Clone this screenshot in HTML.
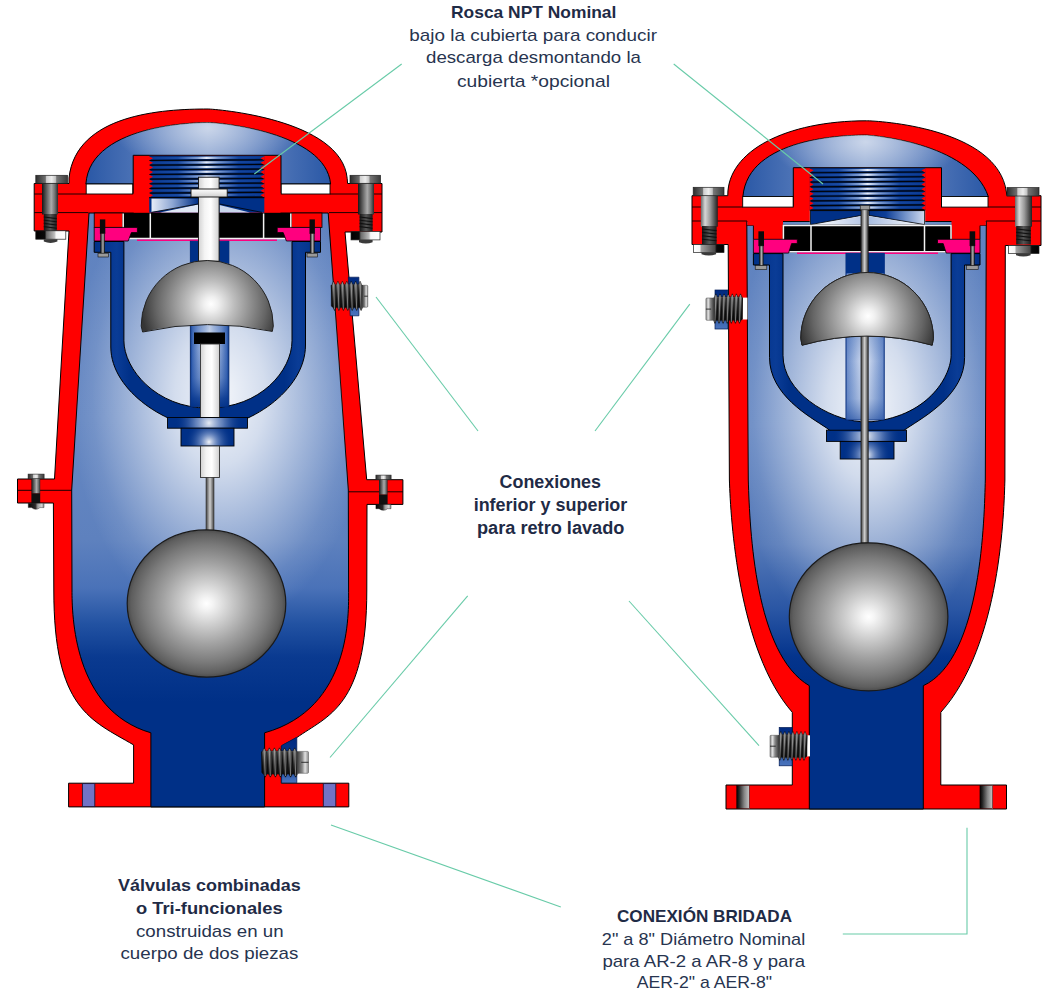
<!DOCTYPE html>
<html lang="es">
<head>
<meta charset="utf-8">
<title>Válvulas combinadas</title>
<style>
  html, body { margin: 0; padding: 0; background: #ffffff; }
  body { width: 1060px; height: 992px; overflow: hidden; font-family: "Liberation Sans", sans-serif; }
  svg { display: block; }
  text { font-family: "Liberation Sans", sans-serif; fill: #27344f; }
  .b { font-weight: bold; fill: #1f2b46; }
  .lead { stroke: #68cba8; stroke-width: 1.1; fill: none; }
</style>
</head>
<body>
<svg width="1060" height="992" viewBox="0 0 1060 992">

<defs>
  <!-- cavity fill (left) -->
  <linearGradient id="cavL" gradientUnits="userSpaceOnUse" x1="0" y1="210" x2="0" y2="810">
    <stop offset="0" stop-color="#5f82bf"/>
    <stop offset="0.35" stop-color="#6587c2"/>
    <stop offset="0.55" stop-color="#5e81be"/>
    <stop offset="0.63" stop-color="#4a72b8"/>
    <stop offset="0.69" stop-color="#2252a2"/>
    <stop offset="0.745" stop-color="#0a3a90"/>
    <stop offset="0.82" stop-color="#003087"/>
    <stop offset="1" stop-color="#003087"/>
  </linearGradient>
  <radialGradient id="glowL" gradientUnits="userSpaceOnUse" cx="0" cy="0" r="1" gradientTransform="translate(220 395) scale(150 235)">
    <stop offset="0" stop-color="#ffffff" stop-opacity="0.93"/>
    <stop offset="0.3" stop-color="#ffffff" stop-opacity="0.72"/>
    <stop offset="0.6" stop-color="#ffffff" stop-opacity="0.38"/>
    <stop offset="0.85" stop-color="#ffffff" stop-opacity="0.1"/>
    <stop offset="1" stop-color="#ffffff" stop-opacity="0"/>
  </radialGradient>
  <linearGradient id="domeL" gradientUnits="userSpaceOnUse" x1="86" y1="0" x2="330" y2="0">
    <stop offset="0" stop-color="#2a58a6"/>
    <stop offset="0.3" stop-color="#5c7fbd"/>
    <stop offset="0.5" stop-color="#7e9acb"/>
    <stop offset="0.7" stop-color="#5c7fbd"/>
    <stop offset="1" stop-color="#2a58a6"/>
  </linearGradient>
  <radialGradient id="domeGlowL" gradientUnits="userSpaceOnUse" cx="0" cy="0" r="1" gradientTransform="translate(208 128) scale(95 45)">
    <stop offset="0" stop-color="#ffffff" stop-opacity="0.6"/>
    <stop offset="0.6" stop-color="#ffffff" stop-opacity="0.25"/>
    <stop offset="1" stop-color="#ffffff" stop-opacity="0"/>
  </radialGradient>
  <linearGradient id="thrL" gradientUnits="userSpaceOnUse" x1="149" y1="0" x2="264" y2="0">
    <stop offset="0" stop-color="#0a3a93"/>
    <stop offset="0.25" stop-color="#1a4ba3"/>
    <stop offset="0.42" stop-color="#7f9dd2"/>
    <stop offset="0.5" stop-color="#e6ecf8"/>
    <stop offset="0.6" stop-color="#7f9dd2"/>
    <stop offset="0.78" stop-color="#1546a0"/>
    <stop offset="1" stop-color="#0a3a93"/>
  </linearGradient>
  <linearGradient id="seatL" gradientUnits="userSpaceOnUse" x1="151" y1="0" x2="198" y2="0">
    <stop offset="0" stop-color="#e9eef8"/>
    <stop offset="0.45" stop-color="#8fa8d4"/>
    <stop offset="1" stop-color="#003087"/>
  </linearGradient>
  <linearGradient id="yokeL" gradientUnits="userSpaceOnUse" x1="94" y1="0" x2="321" y2="0">
    <stop offset="0" stop-color="#003087"/>
    <stop offset="0.1" stop-color="#0a3c96"/>
    <stop offset="0.16" stop-color="#003087"/>
    <stop offset="0.84" stop-color="#003087"/>
    <stop offset="0.9" stop-color="#0a3c96"/>
    <stop offset="1" stop-color="#003087"/>
  </linearGradient>
  <linearGradient id="tubeL" x1="0" y1="0" x2="1" y2="0">
    <stop offset="0" stop-color="#0a3a93"/>
    <stop offset="0.06" stop-color="#3f69b5"/>
    <stop offset="0.2" stop-color="#7b99cf"/>
    <stop offset="0.4" stop-color="#b6c7e6"/>
    <stop offset="0.5" stop-color="#dbe3f2"/>
    <stop offset="0.6" stop-color="#b6c7e6"/>
    <stop offset="0.8" stop-color="#7b99cf"/>
    <stop offset="0.94" stop-color="#3f69b5"/>
    <stop offset="1" stop-color="#0a3a93"/>
  </linearGradient>
  <linearGradient id="tubeShade" x1="0" y1="0" x2="0" y2="1">
    <stop offset="0" stop-color="#2a58a8" stop-opacity="0.2"/>
    <stop offset="0.3" stop-color="#2a58a8" stop-opacity="0"/>
    <stop offset="0.65" stop-color="#1a4aa0" stop-opacity="0.3"/>
    <stop offset="0.9" stop-color="#06368e" stop-opacity="0.85"/>
    <stop offset="1" stop-color="#003087" stop-opacity="0.95"/>
  </linearGradient>
  <linearGradient id="whiteRod" x1="0" y1="0" x2="1" y2="0">
    <stop offset="0" stop-color="#d2d2d2"/>
    <stop offset="0.3" stop-color="#f4f4f4"/>
    <stop offset="0.6" stop-color="#ffffff"/>
    <stop offset="1" stop-color="#cfcfcf"/>
  </linearGradient>
  <linearGradient id="whiteRodV" x1="0" y1="0" x2="0" y2="1">
    <stop offset="0" stop-color="#ffffff"/>
    <stop offset="1" stop-color="#d0d0d0"/>
  </linearGradient>
  <linearGradient id="thinRod" x1="0" y1="0" x2="1" y2="0">
    <stop offset="0" stop-color="#3f3f3f"/>
    <stop offset="0.5" stop-color="#cfcfcf"/>
    <stop offset="1" stop-color="#3f3f3f"/>
  </linearGradient>
  <radialGradient id="hemiL" gradientUnits="userSpaceOnUse" cx="211" cy="304" r="70">
    <stop offset="0" stop-color="#ffffff"/>
    <stop offset="0.1" stop-color="#f0f0f0"/>
    <stop offset="0.33" stop-color="#bdbdbd"/>
    <stop offset="0.58" stop-color="#8c8c8c"/>
    <stop offset="0.78" stop-color="#666666"/>
    <stop offset="0.92" stop-color="#474747"/>
    <stop offset="1" stop-color="#353535"/>
  </radialGradient>
  <radialGradient id="plateGlowL" gradientUnits="userSpaceOnUse" cx="209" cy="423" r="34">
    <stop offset="0" stop-color="#ffffff" stop-opacity="0.9"/>
    <stop offset="0.4" stop-color="#9fb4dc" stop-opacity="0.6"/>
    <stop offset="1" stop-color="#003087" stop-opacity="0"/>
  </radialGradient>
  <radialGradient id="blockGlowL" gradientUnits="userSpaceOnUse" cx="209" cy="442" r="24">
    <stop offset="0" stop-color="#ffffff" stop-opacity="0.95"/>
    <stop offset="0.35" stop-color="#9fb4dc" stop-opacity="0.6"/>
    <stop offset="1" stop-color="#003087" stop-opacity="0"/>
  </radialGradient>
  <radialGradient id="ball" cx="0.5" cy="0.5" r="0.5">
    <stop offset="0" stop-color="#ffffff"/>
    <stop offset="0.08" stop-color="#f4f4f4"/>
    <stop offset="0.3" stop-color="#cdcdcd"/>
    <stop offset="0.55" stop-color="#a2a2a2"/>
    <stop offset="0.8" stop-color="#7a7a7a"/>
    <stop offset="0.95" stop-color="#5e5e5e"/>
    <stop offset="1" stop-color="#4c4c4c"/>
  </radialGradient>
  <linearGradient id="steelH" x1="0" y1="0" x2="1" y2="0">
    <stop offset="0" stop-color="#161616"/>
    <stop offset="0.3" stop-color="#636363"/>
    <stop offset="0.58" stop-color="#aaaaaa"/>
    <stop offset="0.8" stop-color="#727272"/>
    <stop offset="1" stop-color="#2a2a2a"/>
  </linearGradient>
  <linearGradient id="steelDark" x1="0" y1="0" x2="1" y2="0">
    <stop offset="0" stop-color="#151515"/>
    <stop offset="0.5" stop-color="#555555"/>
    <stop offset="1" stop-color="#1c1c1c"/>
  </linearGradient>
  <linearGradient id="hexHead" x1="0" y1="0" x2="1" y2="0">
    <stop offset="0" stop-color="#2c2c2c"/>
    <stop offset="0.3" stop-color="#6e6e6e"/>
    <stop offset="0.34" stop-color="#cfcfcf"/>
    <stop offset="0.5" stop-color="#ededed"/>
    <stop offset="0.62" stop-color="#c4c4c4"/>
    <stop offset="0.66" stop-color="#767676"/>
    <stop offset="1" stop-color="#3a3a3a"/>
  </linearGradient>
  <linearGradient id="nutL" x1="0" y1="0" x2="1" y2="0">
    <stop offset="0" stop-color="#000000"/>
    <stop offset="0.3" stop-color="#0a0a0a"/>
    <stop offset="0.36" stop-color="#6a6a6a"/>
    <stop offset="0.62" stop-color="#bdbdbd"/>
    <stop offset="0.68" stop-color="#f7f7f7"/>
    <stop offset="1" stop-color="#ffffff"/>
  </linearGradient>
  <linearGradient id="nutR" x1="0" y1="0" x2="1" y2="0">
    <stop offset="0" stop-color="#000000"/>
    <stop offset="0.28" stop-color="#0a0a0a"/>
    <stop offset="0.34" stop-color="#6a6a6a"/>
    <stop offset="0.62" stop-color="#bdbdbd"/>
    <stop offset="0.68" stop-color="#f7f7f7"/>
    <stop offset="1" stop-color="#ffffff"/>
  </linearGradient>
  <linearGradient id="nutBlue" x1="0" y1="0" x2="0" y2="1">
    <stop offset="0" stop-color="#002a80"/>
    <stop offset="0.6" stop-color="#0b3a93"/>
    <stop offset="0.85" stop-color="#3f69b4"/>
    <stop offset="1" stop-color="#4a74bd"/>
  </linearGradient>
  <linearGradient id="nutBlue2" x1="0" y1="0" x2="0" y2="1">
    <stop offset="0" stop-color="#002a80"/>
    <stop offset="0.7" stop-color="#0b3a93"/>
    <stop offset="0.9" stop-color="#3f69b4"/>
    <stop offset="1" stop-color="#4a74bd"/>
  </linearGradient>
  <linearGradient id="plugV" x1="0" y1="0" x2="0" y2="1">
    <stop offset="0" stop-color="#3a3a3a"/>
    <stop offset="0.12" stop-color="#6a6a6a"/>
    <stop offset="0.3" stop-color="#505050"/>
    <stop offset="0.6" stop-color="#2c2c2c"/>
    <stop offset="0.88" stop-color="#141414"/>
    <stop offset="1" stop-color="#0a0a0a"/>
  </linearGradient>
  <linearGradient id="plugHeadR" x1="0" y1="0" x2="1" y2="0">
    <stop offset="0" stop-color="#3a3a3a"/>
    <stop offset="0.45" stop-color="#8a8a8a"/>
    <stop offset="0.7" stop-color="#e2e2e2"/>
    <stop offset="1" stop-color="#8a8a8a"/>
  </linearGradient>
  <linearGradient id="plugHeadL" x1="0" y1="0" x2="1" y2="0">
    <stop offset="0" stop-color="#8a8a8a"/>
    <stop offset="0.3" stop-color="#e2e2e2"/>
    <stop offset="0.55" stop-color="#8a8a8a"/>
    <stop offset="1" stop-color="#3a3a3a"/>
  </linearGradient>

  <!-- right valve gradients -->
  <linearGradient id="cavR" gradientUnits="userSpaceOnUse" x1="0" y1="220" x2="0" y2="810">
    <stop offset="0" stop-color="#5f82bf"/>
    <stop offset="0.35" stop-color="#6587c2"/>
    <stop offset="0.55" stop-color="#5579b8"/>
    <stop offset="0.66" stop-color="#2a56a4"/>
    <stop offset="0.74" stop-color="#04348c"/>
    <stop offset="0.78" stop-color="#003087"/>
    <stop offset="1" stop-color="#003087"/>
  </linearGradient>
  <radialGradient id="glowR" gradientUnits="userSpaceOnUse" cx="0" cy="0" r="1" gradientTransform="translate(868 405) scale(135 245)">
    <stop offset="0" stop-color="#ffffff" stop-opacity="0.93"/>
    <stop offset="0.3" stop-color="#ffffff" stop-opacity="0.72"/>
    <stop offset="0.6" stop-color="#ffffff" stop-opacity="0.38"/>
    <stop offset="0.85" stop-color="#ffffff" stop-opacity="0.1"/>
    <stop offset="1" stop-color="#ffffff" stop-opacity="0"/>
  </radialGradient>
  <linearGradient id="domeR" gradientUnits="userSpaceOnUse" x1="742" y1="0" x2="988" y2="0">
    <stop offset="0" stop-color="#2a58a6"/>
    <stop offset="0.3" stop-color="#5c7fbd"/>
    <stop offset="0.5" stop-color="#7e9acb"/>
    <stop offset="0.7" stop-color="#5c7fbd"/>
    <stop offset="1" stop-color="#2a58a6"/>
  </linearGradient>
  <radialGradient id="domeGlowR" gradientUnits="userSpaceOnUse" cx="0" cy="0" r="1" gradientTransform="translate(866 142) scale(95 45)">
    <stop offset="0" stop-color="#ffffff" stop-opacity="0.6"/>
    <stop offset="0.6" stop-color="#ffffff" stop-opacity="0.25"/>
    <stop offset="1" stop-color="#ffffff" stop-opacity="0"/>
  </radialGradient>
  <linearGradient id="thrR" gradientUnits="userSpaceOnUse" x1="810" y1="0" x2="925" y2="0">
    <stop offset="0" stop-color="#0a3a93"/>
    <stop offset="0.25" stop-color="#1a4ba3"/>
    <stop offset="0.42" stop-color="#7f9dd2"/>
    <stop offset="0.5" stop-color="#e6ecf8"/>
    <stop offset="0.6" stop-color="#7f9dd2"/>
    <stop offset="0.78" stop-color="#1546a0"/>
    <stop offset="1" stop-color="#0a3a93"/>
  </linearGradient>
  <linearGradient id="seatR" gradientUnits="userSpaceOnUse" x1="869" y1="0" x2="925" y2="0">
    <stop offset="0" stop-color="#003087"/>
    <stop offset="0.3" stop-color="#0d3e97"/>
    <stop offset="0.65" stop-color="#7292c9"/>
    <stop offset="1" stop-color="#d3ddf0"/>
  </linearGradient>
  <linearGradient id="seatLightR" gradientUnits="userSpaceOnUse" x1="813" y1="0" x2="861" y2="0">
    <stop offset="0" stop-color="#ffffff"/>
    <stop offset="1" stop-color="#b9c9e6"/>
  </linearGradient>
  <linearGradient id="seatLightR2" gradientUnits="userSpaceOnUse" x1="869" y1="0" x2="922" y2="0">
    <stop offset="0" stop-color="#a9bde0"/>
    <stop offset="1" stop-color="#ffffff"/>
  </linearGradient>
  <linearGradient id="yokeR" gradientUnits="userSpaceOnUse" x1="753" y1="0" x2="980" y2="0">
    <stop offset="0" stop-color="#003087"/>
    <stop offset="0.1" stop-color="#0a3c96"/>
    <stop offset="0.16" stop-color="#003087"/>
    <stop offset="0.84" stop-color="#003087"/>
    <stop offset="0.9" stop-color="#0a3c96"/>
    <stop offset="1" stop-color="#003087"/>
  </linearGradient>
  <radialGradient id="hemiR" gradientUnits="userSpaceOnUse" cx="868" cy="316" r="70">
    <stop offset="0" stop-color="#ffffff"/>
    <stop offset="0.1" stop-color="#f0f0f0"/>
    <stop offset="0.33" stop-color="#bdbdbd"/>
    <stop offset="0.58" stop-color="#8c8c8c"/>
    <stop offset="0.78" stop-color="#666666"/>
    <stop offset="0.92" stop-color="#474747"/>
    <stop offset="1" stop-color="#353535"/>
  </radialGradient>
  <radialGradient id="plateGlowR" gradientUnits="userSpaceOnUse" cx="867" cy="436" r="34">
    <stop offset="0" stop-color="#ffffff" stop-opacity="0.9"/>
    <stop offset="0.4" stop-color="#9fb4dc" stop-opacity="0.6"/>
    <stop offset="1" stop-color="#003087" stop-opacity="0"/>
  </radialGradient>
  <radialGradient id="blockGlowR" gradientUnits="userSpaceOnUse" cx="867" cy="455" r="24">
    <stop offset="0" stop-color="#ffffff" stop-opacity="0.95"/>
    <stop offset="0.35" stop-color="#9fb4dc" stop-opacity="0.6"/>
    <stop offset="1" stop-color="#003087" stop-opacity="0"/>
  </radialGradient>
  <linearGradient id="steelHR" x1="0" y1="0" x2="1" y2="0">
    <stop offset="0" stop-color="#6a6a6a"/>
    <stop offset="0.25" stop-color="#d6d6d6"/>
    <stop offset="0.55" stop-color="#9a9a9a"/>
    <stop offset="1" stop-color="#1f1f1f"/>
  </linearGradient>
  <linearGradient id="nutRev" x1="0" y1="0" x2="1" y2="0">
    <stop offset="0" stop-color="#ffffff"/>
    <stop offset="0.2" stop-color="#f4f4f4"/>
    <stop offset="0.26" stop-color="#a0a0a0"/>
    <stop offset="0.7" stop-color="#4a4a4a"/>
    <stop offset="0.76" stop-color="#0a0a0a"/>
    <stop offset="1" stop-color="#000000"/>
  </linearGradient>
  <linearGradient id="holeG" x1="0" y1="0" x2="1" y2="0">
    <stop offset="0" stop-color="#000000"/>
    <stop offset="0.2" stop-color="#262626"/>
    <stop offset="0.6" stop-color="#858585"/>
    <stop offset="1" stop-color="#c6c6c6"/>
  </linearGradient>
  <linearGradient id="tubeR" x1="0" y1="0" x2="1" y2="0">
    <stop offset="0" stop-color="#6888c6"/>
    <stop offset="0.15" stop-color="#8ba6d6"/>
    <stop offset="0.38" stop-color="#c3d1eb"/>
    <stop offset="0.5" stop-color="#eef2fa"/>
    <stop offset="0.62" stop-color="#c3d1eb"/>
    <stop offset="0.85" stop-color="#8ba6d6"/>
    <stop offset="1" stop-color="#6888c6"/>
  </linearGradient>
  <linearGradient id="tubeShadeR" x1="0" y1="0" x2="0" y2="1">
    <stop offset="0" stop-color="#2a58a8" stop-opacity="0.25"/>
    <stop offset="0.3" stop-color="#2a58a8" stop-opacity="0"/>
    <stop offset="0.75" stop-color="#2a58a8" stop-opacity="0.15"/>
    <stop offset="1" stop-color="#0c3c96" stop-opacity="0.55"/>
  </linearGradient>
  <linearGradient id="nutSm" x1="0" y1="0" x2="1" y2="0">
    <stop offset="0" stop-color="#050505"/>
    <stop offset="0.45" stop-color="#2a2a2a"/>
    <stop offset="0.6" stop-color="#9a9a9a"/>
    <stop offset="0.85" stop-color="#d5d5d5"/>
    <stop offset="1" stop-color="#8a8a8a"/>
  </linearGradient>
</defs>

<g id="leftValve" stroke-linejoin="miter">
  <!-- red silhouette -->
  <path d="M34.2,183.5 H69 V178 C76.1,114 162.5,109 208,109 C213.3,109 341.5,118.3 347.2,178.5 L347.6,183.5 H382 V232 H345 L366.7,479.7 H402.9 V504.4 H367 L366.8,590 C366.8,706.8 328.2,715.3 296.6,737.7 L281.3,746 V783.2 H348.8 V806.9 H68.6 V783.2 H133.6 V744.9 C91,719.9 53.8,709.4 53.8,590 L53.4,503 H17.5 V479 H54.5 L69,231 H34.2 Z" fill="#ff0000" stroke="#000" stroke-width="1"/>
  <!-- flange split lines -->
  <path d="M34.2,194 H86 M34.2,212.6 H88.5 M330,194 H382 M329,212.6 H382 M17.5,490.3 H71.8 M348.3,491.8 H402.9" stroke="#000" stroke-width="0.9" fill="none"/>

  <!-- dome interior -->
  <path d="M85.9,184 C90.2,121 208,122.6 208,122.6 C217.7,122.6 325.7,131.5 330.6,184 Z" fill="url(#domeL)" stroke="#000" stroke-width="1"/>
  <path d="M85.9,184 C90.2,121 208,122.6 208,122.6 C217.7,122.6 325.7,131.5 330.6,184 Z" fill="url(#domeGlowL)"/>
  <!-- white slots -->
  <rect x="86.2" y="184" width="46.6" height="10" fill="#fff" stroke="#000" stroke-width="0.9"/>
  <rect x="281" y="184" width="49" height="10" fill="#fff" stroke="#000" stroke-width="0.9"/>

  <!-- main cavity -->
  <path id="cavPathL" d="M89,213 L71.7,490 L72,590 C72,613.9 72.9,710.2 150.9,732.8 V806.9 H264.6 V732.8 C352,708.4 348.6,612.5 348.6,590 L348.3,490 L328.2,213 Z" fill="url(#cavL)" stroke="#000" stroke-width="1"/>
  <path d="M89,213 L71.7,490 L72,590 C72,613.9 72.9,710.2 150.9,732.8 V806.9 H264.6 V732.8 C352,708.4 348.6,612.5 348.6,590 L348.3,490 L328.2,213 Z" fill="url(#glowL)"/>

  <!-- boss (thread holder) -->
  <path d="M133.2,194 V155.3 H281 V194" fill="#ff0000" stroke="#000" stroke-width="1"/>
  <rect x="133.7" y="193" width="146.8" height="19.6" fill="#ff0000"/>
  <!-- thread zone -->
  <rect x="149.2" y="155.8" width="115.1" height="41.9" fill="#00276f"/>
  <path d="M149.2,158.11 L264.3,157.41 M149.2,162.76 L264.3,162.06 M149.2,167.42 L264.3,166.72 M149.2,172.07 L264.3,171.37 M149.2,176.73 L264.3,176.03 M149.2,181.38 L264.3,180.68 M149.2,186.04 L264.3,185.34 M149.2,190.69 L264.3,189.99 M149.2,195.35 L264.3,194.65" stroke="url(#thrL)" stroke-width="2.33" fill="none"/>
  <path d="M149.2,160.48 L264.3,159.78 M149.2,165.14 L264.3,164.44 M149.2,169.79 L264.3,169.09 M149.2,174.45 L264.3,173.75 M149.2,179.10 L264.3,178.40 M149.2,183.76 L264.3,183.06 M149.2,188.41 L264.3,187.71 M149.2,193.07 L264.3,192.37 M149.2,197.72 L264.3,197.02" stroke="#000" stroke-width="1.15" fill="none" opacity="0.9"/>
  <path d="M148.9,156.30 L153.0,158.13 L148.9,160.46 L153.0,162.78 L148.9,165.11 L153.0,167.44 L148.9,169.77 L153.0,172.09 L148.9,174.42 L153.0,176.75 L148.9,179.08 L153.0,181.41 L148.9,183.73 L153.0,186.06 L148.9,188.39 L153.0,190.72 L148.9,193.04 L153.0,195.37 L148.9,197.70 Z" fill="#ff0000"/>
  <path d="M264.6,156.30 L260.5,158.13 L264.6,160.46 L260.5,162.78 L264.6,165.11 L260.5,167.44 L264.6,169.77 L260.5,172.09 L264.6,174.42 L260.5,176.75 L264.6,179.08 L260.5,181.41 L264.6,183.73 L260.5,186.06 L264.6,188.39 L260.5,190.72 L264.6,193.04 L260.5,195.37 L264.6,197.70 Z" fill="#ff0000"/>
  <!-- seat under thread -->
  <rect x="149.2" y="197.7" width="115.1" height="14.9" fill="#003087"/>
  <path d="M151.5,198.5 H198 V205 L151.5,212 Z" fill="url(#seatL)"/>
  <path d="M160,212.4 L198,204.5 V212.4 Z" fill="#dfe7f4"/>
  <path d="M219.5,205 L250,212.4 H219.5 Z" fill="#c9d6ec"/>
  <path d="M151.5,212.4 L198,204 M219.5,204 L262,212.4" stroke="#000" stroke-width="0.8" fill="none"/>
  <path d="M149.2,197.7 H264.3" stroke="#000" stroke-width="1" fill="none"/>

  <!-- red blocks next to black band -->
  <rect x="94.2" y="213" width="29" height="14.4" fill="#ff0000" stroke="#000" stroke-width="0.8"/>
  <rect x="291" y="213" width="31" height="14.4" fill="#ff0000" stroke="#000" stroke-width="0.8"/>
  <!-- black band -->
  <rect x="122.5" y="213" width="169" height="25.5" fill="#000"/>
  <path d="M123.2,213.5 V238.6 H290.8 V213.5 M150.3,213.5 V238 M263.6,213.5 V238" stroke="#f3f3f3" stroke-width="1.5" fill="none"/>
  <path d="M137,240.2 H277" stroke="#ff007f" stroke-width="1.6" fill="none"/>
  <!-- pink gaskets -->
  <path d="M94.2,227.4 H137.4 V232.6 H131.4 L128.2,241 H94.2 Z" fill="#ff007f" stroke="#000" stroke-width="0.8"/>
  <path d="M320.5,227.4 H277.2 V232.6 H283.2 L286.4,241 H320.5 Z" fill="#ff007f" stroke="#000" stroke-width="0.8"/>

  <!-- yoke -->
  <path d="M94.2,241.5 H123.9 V340.8 C123.9,368.5 155.6,408 208,408 C260.6,408 292,370.4 292,340.8 V241.5 H320.5 V252.3 H305.5 V345 C305.5,392 246,428 208,428 C170.3,428 110.8,392.1 110.8,347 V252.3 H94.2 Z" fill="url(#yokeL)" stroke="#000" stroke-width="1"/>
  <!-- small screws -->
  <g>
    <rect x="99.9" y="219.4" width="5.4" height="14.4" fill="#0a0a0a"/>
    <rect x="100.6" y="233.6" width="4" height="20" fill="url(#steelH)" stroke="#111" stroke-width="0.5"/>
    <rect x="98" y="253.2" width="10.4" height="3.8" fill="#9a9a9a" stroke="#111" stroke-width="0.6"/>
    <rect x="309.5" y="219.4" width="5.4" height="14.4" fill="#0a0a0a"/>
    <rect x="310.2" y="233.6" width="4" height="20" fill="url(#steelH)" stroke="#111" stroke-width="0.5"/>
    <rect x="307" y="253.2" width="10.4" height="3.8" fill="#9a9a9a" stroke="#111" stroke-width="0.6"/>
  </g>

  <!-- guide tube -->
  <rect x="190.3" y="241.2" width="38.6" height="165.5" fill="url(#tubeL)" stroke="#00205f" stroke-width="0.8"/>
  <rect x="190.3" y="241.2" width="38.6" height="22" fill="#003087"/>
  <rect x="190.7" y="324" width="37.8" height="82.7" fill="url(#tubeShade)"/>

  <!-- upper stem -->
  <rect x="198.5" y="177.2" width="20.6" height="84" fill="url(#whiteRod)" stroke="#111" stroke-width="0.9"/>
  <rect x="191" y="189" width="36.2" height="8" fill="url(#whiteRodV)" stroke="#111" stroke-width="0.9"/>

  <!-- hemisphere float -->
  <path d="M142.6,332 L141.2,326 A66,65.5 0 0 1 273.3,326 L272.3,331.4 Q207.5,317.5 142.6,332 Z" fill="url(#hemiL)" stroke="#222" stroke-width="1"/>

  <!-- lower rod assembly -->
  <rect x="194" y="332.5" width="31" height="11.5" fill="#000"/>
  <rect x="200.5" y="344" width="19" height="73.5" fill="url(#whiteRod)" stroke="#333" stroke-width="0.9"/>
  <rect x="167.5" y="417.5" width="80" height="10.7" fill="#003087" stroke="#000" stroke-width="0.9"/>
  <rect x="168" y="418" width="79" height="9.7" fill="url(#plateGlowL)"/>
  <rect x="181" y="428.2" width="53" height="17.8" fill="#003087" stroke="#000" stroke-width="0.9"/>
  <rect x="181.5" y="428.7" width="52" height="16.8" fill="url(#blockGlowL)"/>
  <rect x="200.5" y="446" width="19" height="31.5" fill="url(#whiteRod)" stroke="#333" stroke-width="0.9"/>
  <rect x="206" y="477.5" width="8" height="53" fill="url(#thinRod)" stroke="#333" stroke-width="0.6"/>

  <!-- ball -->
  <ellipse cx="206.5" cy="603.5" rx="79.3" ry="73.6" fill="url(#ball)" stroke="#1a1a1a" stroke-width="1.2"/>

  <!-- flange bolts (top) -->
  <g id="boltTL">
    <rect x="42" y="183.5" width="16" height="31" fill="url(#steelH)"/>
    <rect x="43.8" y="214" width="13" height="17" fill="url(#steelDark)"/>
    <path d="M43.8,217 l13,1.6 M43.8,220.2 l13,1.6 M43.8,223.4 l13,1.6 M43.8,226.6 l13,1.6" stroke="#111" stroke-width="1.1" fill="none"/>
    <rect x="35.8" y="175.3" width="31.7" height="8" fill="url(#hexHead)" stroke="#222" stroke-width="0.7"/>
    <rect x="35.8" y="230.8" width="30" height="8.4" fill="url(#nutL)" stroke="#222" stroke-width="0.7"/>
    <path d="M43.8,239.2 h13.6 v2.4 q-6.8,2.6 -13.6,0 Z" fill="#3a3a3a"/>
  </g>
  <g id="boltTR">
    <rect x="358" y="183.5" width="16" height="31" fill="url(#steelH)"/>
    <rect x="359.6" y="214" width="13" height="17" fill="url(#steelDark)"/>
    <path d="M359.6,217 l13,1.6 M359.6,220.2 l13,1.6 M359.6,223.4 l13,1.6 M359.6,226.6 l13,1.6" stroke="#111" stroke-width="1.1" fill="none"/>
    <rect x="350" y="175.3" width="30.5" height="8" fill="url(#hexHead)" stroke="#222" stroke-width="0.7"/>
    <rect x="351" y="231.5" width="29" height="8.4" fill="url(#nutR)" stroke="#222" stroke-width="0.7"/>
    <path d="M359,239.9 h13.6 v2.4 q-6.8,2.6 -13.6,0 Z" fill="#3a3a3a"/>
  </g>
  <!-- mid flange bolts -->
  <g>
    <rect x="31.4" y="478.6" width="8.8" height="15" fill="url(#steelH)"/>
    <rect x="31.4" y="493.3" width="8.8" height="10.2" fill="#101010"/>
    <rect x="28.1" y="474.1" width="16" height="4.6" fill="url(#hexHead)" stroke="#222" stroke-width="0.6"/>
    <path d="M28.3,503.3 H44 V507.6 H40 Q36,511 31.5,507.6 H28.3 Z" fill="url(#nutSm)" stroke="#111" stroke-width="0.4"/>
    <rect x="379" y="479.7" width="8.6" height="15" fill="url(#steelH)"/>
    <rect x="379" y="494.5" width="8.6" height="10.2" fill="#101010"/>
    <rect x="375.9" y="475.1" width="15.2" height="4.6" fill="url(#hexHead)" stroke="#222" stroke-width="0.6"/>
    <path d="M375.9,504.4 H391 V508.7 H387.5 Q383.5,512 379,508.7 H375.9 Z" fill="url(#nutSm)" stroke="#111" stroke-width="0.4"/>
  </g>

  <!-- side plug (upper right) -->
  <g>
    <path d="M348.3,277.2 H358.9 V315.8 H350.2 Z" fill="url(#nutBlue)" stroke="#001a55" stroke-width="0.7"/>
    <path d="M331.3,285.9 L332.0,284.4 L333.5,281.2 L335.1,284.4 L336.4,284.4 L337.9,281.2 L339.5,284.4 L340.8,284.4 L342.4,281.2 L343.9,284.4 L345.2,284.4 L346.8,281.2 L348.4,284.4 L349.7,284.4 L351.2,281.2 L352.8,284.4 L354.1,284.4 L355.7,281.2 L357.2,284.4 L358.5,284.4 L360.1,281.2 L361.6,284.4 L362.3,285.4 L362.3,306.4 L362.6,307.4 L361.1,310.6 L359.5,307.4 L358.2,307.4 L356.7,310.6 L355.1,307.4 L353.8,307.4 L352.2,310.6 L350.7,307.4 L349.4,307.4 L347.8,310.6 L346.2,307.4 L344.9,307.4 L343.4,310.6 L341.8,307.4 L340.5,307.4 L338.9,310.6 L337.4,307.4 L336.1,307.4 L334.5,310.6 L333.0,307.4 L331.3,305.9 Z" fill="url(#plugV)" stroke="#0c0c0c" stroke-width="0.5"/>
    <path d="M333.5,282.4 L334.5,309.4 M337.9,282.4 L338.9,309.4 M342.4,282.4 L343.4,309.4 M346.8,282.4 L347.8,309.4 M351.2,282.4 L352.2,309.4 M355.7,282.4 L356.7,309.4 M360.1,282.4 L361.1,309.4" stroke="#b5b5b5" stroke-width="0.9" fill="none" opacity="0.7"/>
    <path d="M331.3,284.9 L332.3,306.9 M335.7,284.9 L336.7,306.9 M340.2,284.9 L341.2,306.9 M344.6,284.9 L345.6,306.9 M349.0,284.9 L350.0,306.9 M353.4,284.9 L354.4,306.9 M357.9,284.9 L358.9,306.9 M362.3,284.9 L363.3,306.9" stroke="#050505" stroke-width="1.1" fill="none" opacity="0.8"/>
    <rect x="362.3" y="285.3" width="5.5" height="21.9" rx="1" fill="url(#plugHeadR)" stroke="#4a4a4a" stroke-width="0.5"/>
    <path d="M364.2,296.2 H367.8" stroke="#222" stroke-width="0.9"/>
  </g>
  <!-- base flange holes -->
  <rect x="82.4" y="783.6" width="12.4" height="23" fill="#7273c5" stroke="#1a1a3c" stroke-width="0.9"/>
  <rect x="323.3" y="783.6" width="12.5" height="23" fill="#7273c5" stroke="#1a1a3c" stroke-width="0.9"/>
  <!-- bottom plug -->
  <g>
    <path d="M281.6,745.6 L296.8,737.2 V782.8 H281.6 Z" fill="url(#nutBlue2)" stroke="#001a55" stroke-width="0.7"/>
    <path d="M261.7,752.5 L262.5,751.0 L264.2,747.8 L266.0,751.0 L267.5,751.0 L269.3,747.8 L271.1,751.0 L272.6,751.0 L274.4,747.8 L276.2,751.0 L277.7,751.0 L279.4,747.8 L281.2,751.0 L282.7,751.0 L284.5,747.8 L286.3,751.0 L287.8,751.0 L289.6,747.8 L291.4,751.0 L292.9,751.0 L294.7,747.8 L296.4,751.0 L297.2,752.0 L297.2,773.0 L297.4,774.0 L295.7,777.2 L293.9,774.0 L292.4,774.0 L290.6,777.2 L288.8,774.0 L287.3,774.0 L285.5,777.2 L283.7,774.0 L282.2,774.0 L280.4,777.2 L278.7,774.0 L277.2,774.0 L275.4,777.2 L273.6,774.0 L272.1,774.0 L270.3,777.2 L268.5,774.0 L267.0,774.0 L265.2,777.2 L263.5,774.0 L261.7,772.5 Z" fill="url(#plugV)" stroke="#0c0c0c" stroke-width="0.5"/>
    <path d="M264.2,749.0 L265.2,776.0 M269.3,749.0 L270.3,776.0 M274.4,749.0 L275.4,776.0 M279.4,749.0 L280.4,776.0 M284.5,749.0 L285.5,776.0 M289.6,749.0 L290.6,776.0 M294.7,749.0 L295.7,776.0" stroke="#b5b5b5" stroke-width="0.9" fill="none" opacity="0.7"/>
    <path d="M261.7,751.5 L262.7,773.5 M266.8,751.5 L267.8,773.5 M271.8,751.5 L272.8,773.5 M276.9,751.5 L277.9,773.5 M282.0,751.5 L283.0,773.5 M287.1,751.5 L288.1,773.5 M292.1,751.5 L293.1,773.5 M297.2,751.5 L298.2,773.5" stroke="#050505" stroke-width="1.1" fill="none" opacity="0.8"/>
    <rect x="297.2" y="751.4" width="11.3" height="21.9" rx="1" fill="url(#plugHeadR)" stroke="#4a4a4a" stroke-width="0.5"/>
    <path d="M301.2,762.3 H308.5" stroke="#222" stroke-width="0.9"/>
  </g>
</g>

<g id="rightValve" stroke-linejoin="miter">
  <!-- red silhouette -->
  <path d="M692,195.7 H727.8 V195 C727.7,151.1 785.7,120.8 866.5,120.8 C876.5,120.8 997.5,127.2 1006.4,192 L1006.8,195.7 H1041 V245.5 H1005.3 L1004.9,480 C1004,509.5 1001.2,644.8 940.8,712.3 V785 H1006.5 V809 H726 V785 H792.3 V712.3 C738.2,650.3 730.6,519.3 729.4,480 L728.2,244.5 H692 Z" fill="#ff0000" stroke="#000" stroke-width="1"/>
  <path d="M692,207 H743 M692,221 H747 M988,207 H1041 M986,221 H1041" stroke="#000" stroke-width="0.9" fill="none"/>

  <!-- dome interior -->
  <path d="M742.9,196.5 C748.1,137.1 845.6,135.1 866.5,135.1 C866.8,135.1 969.4,141.2 988.3,196.5 Z" fill="url(#domeR)" stroke="#000" stroke-width="1"/>
  <path d="M742.9,196.5 C748.1,137.1 845.6,135.1 866.5,135.1 C866.8,135.1 969.4,141.2 988.3,196.5 Z" fill="url(#domeGlowR)"/>
  <rect x="742.7" y="196.5" width="50.6" height="10.6" fill="#fff" stroke="#000" stroke-width="0.9"/>
  <rect x="941.5" y="196.5" width="46.5" height="10.6" fill="#fff" stroke="#000" stroke-width="0.9"/>

  <!-- main cavity -->
  <path d="M746.8,221.5 L748.3,480 C749.8,530.6 755,654.1 809.3,685.7 V809 H923.3 V685.7 C982.6,658.4 984.2,515.2 985.3,480 L986.3,221.5 Z" fill="url(#cavR)" stroke="#000" stroke-width="1"/>
  <path d="M746.8,221.5 L748.3,480 C749.8,530.6 755,654.1 809.3,685.7 V809 H923.3 V685.7 C982.6,658.4 984.2,515.2 985.3,480 L986.3,221.5 Z" fill="url(#glowR)"/>

  <!-- boss / cover band -->
  <path d="M793.3,207 V167.7 H941.5 V207" fill="#ff0000" stroke="#000" stroke-width="1"/>
  <rect x="793.8" y="206" width="147.2" height="15" fill="#ff0000"/>
  <!-- cover lower blocks -->
  <path d="M753.4,221 H783 V239.3 H753.4 Z M951.5,221 H980 V239.3 H951.5 Z" fill="#ff0000"/>
  <path d="M746.8,225.4 H753.4 V239.3 M986.2,225.4 H980 V239.3" fill="none" stroke="#000" stroke-width="0.9"/>
  <rect x="747.3" y="221" width="7" height="4.4" fill="#ff0000"/>
  <rect x="979" y="221" width="6.8" height="4.4" fill="#ff0000"/>

  <!-- thread zone -->
  <rect x="809.8" y="168.0" width="115.4" height="42.3" fill="#00276f"/>
  <path d="M809.8,170.32 L925.2,169.62 M809.8,175.02 L925.2,174.32 M809.8,179.72 L925.2,179.02 M809.8,184.42 L925.2,183.72 M809.8,189.12 L925.2,188.42 M809.8,193.82 L925.2,193.12 M809.8,198.52 L925.2,197.82 M809.8,203.22 L925.2,202.52 M809.8,207.92 L925.2,207.22" stroke="url(#thrR)" stroke-width="2.35" fill="none"/>
  <path d="M809.8,172.72 L925.2,172.02 M809.8,177.42 L925.2,176.72 M809.8,182.12 L925.2,181.42 M809.8,186.82 L925.2,186.12 M809.8,191.52 L925.2,190.82 M809.8,196.22 L925.2,195.52 M809.8,200.92 L925.2,200.22 M809.8,205.62 L925.2,204.92 M809.8,210.32 L925.2,209.62" stroke="#000" stroke-width="1.15" fill="none" opacity="0.9"/>
  <path d="M809.5,168.50 L813.6,170.35 L809.5,172.70 L813.6,175.05 L809.5,177.40 L813.6,179.75 L809.5,182.10 L813.6,184.45 L809.5,186.80 L813.6,189.15 L809.5,191.50 L813.6,193.85 L809.5,196.20 L813.6,198.55 L809.5,200.90 L813.6,203.25 L809.5,205.60 L813.6,207.95 L809.5,210.30 Z" fill="#ff0000"/>
  <path d="M925.5,168.50 L921.4,170.35 L925.5,172.70 L921.4,175.05 L925.5,177.40 L921.4,179.75 L925.5,182.10 L921.4,184.45 L925.5,186.80 L921.4,189.15 L925.5,191.50 L921.4,193.85 L925.5,196.20 L921.4,198.55 L925.5,200.90 L921.4,203.25 L925.5,205.60 L921.4,207.95 L925.5,210.30 Z" fill="#ff0000"/>
  <!-- seat under thread -->
  <rect x="809.8" y="210" width="115.4" height="15.4" fill="#e6ecf7"/>
  <path d="M810.4,210.6 H861.4 V215.4 L810.4,224.6 Z" fill="#003087" stroke="#000" stroke-width="0.8"/>
  <path d="M813,225.3 L861.4,216.3 V225.3 Z" fill="url(#seatLightR)"/>
  <path d="M869,210.6 H924.6 V224.6 L869,215.4 Z" fill="url(#seatR)" stroke="#000" stroke-width="0.8"/>
  <path d="M869,216.3 L922.5,225.3 H869 Z" fill="url(#seatLightR2)"/>
  <path d="M809.8,210.3 H925.2" stroke="#000" stroke-width="1" fill="none"/>

  <!-- black band -->
  <rect x="782.7" y="224.7" width="169" height="27.7" fill="#000"/>
  <path d="M783.4,251.7 V225.4 H951 V251.7 Z M811,225.4 V251.5 M924.5,225.4 V251.5" stroke="#f3f3f3" stroke-width="1.5" fill="none"/>
  <path d="M797,253.2 H938" stroke="#ff007f" stroke-width="1.5" fill="none"/>
  <!-- pink gaskets -->
  <path d="M753.4,239.3 H797.3 V243.6 H791.6 L788.6,253.1 H753.4 Z" fill="#ff007f" stroke="#000" stroke-width="0.8"/>
  <path d="M980,239.3 H937.5 V243.6 H943.2 L946.2,253.1 H980 Z" fill="#ff007f" stroke="#000" stroke-width="0.8"/>

  <!-- yoke -->
  <path d="M753.4,253.6 H783 V355.3 C783,392 828.1,419.2 860.8,421.7 H872 C931.4,415.1 951.1,373.6 951.1,355.3 V253.6 H980 V265 H964.6 V357.4 C964.6,394.2 925.6,416 906.9,428.3 L900,433 H833 L826.5,427.9 C809.9,416.7 769.5,395.1 769.5,357.4 V265 H753.4 Z" fill="url(#yokeR)" stroke="#000" stroke-width="1"/>
  <!-- small screws -->
  <g>
    <rect x="758.4" y="231.3" width="5.6" height="14.8" fill="#0a0a0a"/>
    <rect x="759.2" y="245.9" width="4" height="20" fill="url(#steelH)" stroke="#111" stroke-width="0.5"/>
    <rect x="755.2" y="265.6" width="11.6" height="4" fill="#9a9a9a" stroke="#111" stroke-width="0.6"/>
    <rect x="969.6" y="231.3" width="5.6" height="14.8" fill="#0a0a0a"/>
    <rect x="970.4" y="245.9" width="4" height="20" fill="url(#steelH)" stroke="#111" stroke-width="0.5"/>
    <rect x="966.6" y="265.6" width="11.6" height="4" fill="#9a9a9a" stroke="#111" stroke-width="0.6"/>
  </g>

  <!-- guide tube -->
  <rect x="846" y="253.4" width="38.2" height="166.5" fill="url(#tubeR)" stroke="#00297a" stroke-width="1"/>
  <rect x="846" y="253.4" width="38.4" height="20" fill="#003087"/>
  <rect x="846.5" y="336" width="37.2" height="83.5" fill="url(#tubeShadeR)"/>

  <!-- hemisphere float -->
  <path d="M802,345.2 L800.8,338.5 A66.3,66 0 0 1 933.4,338.5 L932.2,345.2 Q867,327 802,345.2 Z" fill="url(#hemiR)" stroke="#222" stroke-width="1"/>

  <!-- plate and block -->
  <rect x="826.5" y="430.2" width="80" height="11.2" fill="#003087" stroke="#000" stroke-width="0.9"/>
  <rect x="827.2" y="431.5" width="79.3" height="9.6" fill="url(#plateGlowR)"/>
  <rect x="840.2" y="441.4" width="53.8" height="17.6" fill="#003087" stroke="#000" stroke-width="0.9"/>
  <rect x="840" y="442.1" width="53.5" height="16.4" fill="url(#blockGlowR)"/>

  <!-- thin rod (full length) -->
  <rect x="861" y="206" width="7.2" height="337" fill="url(#thinRod)" stroke="#1c1c1c" stroke-width="0.8"/>
  <rect x="860.2" y="205.4" width="9.6" height="4.4" fill="#9a9a9a" stroke="#1a1a1a" stroke-width="0.6"/>
  <!-- hemisphere overlap: redraw hemi top portion over rod -->
  <path d="M802,345.2 L800.8,338.5 A66.3,66 0 0 1 933.4,338.5 L932.2,345.2 Q867,327 802,345.2 Z" fill="url(#hemiR)" stroke="#222" stroke-width="1"/>

  <!-- ball -->
  <ellipse cx="868.6" cy="616.8" rx="79.3" ry="74" fill="url(#ball)" stroke="#1a1a1a" stroke-width="1.2"/>

  <!-- flange bolts -->
  <g>
    <rect x="700.8" y="195.7" width="17" height="31" fill="url(#steelHR)"/>
    <rect x="702" y="226" width="14.6" height="18.5" fill="url(#steelDark)"/>
    <path d="M702,229 l14.6,1.6 M702,232.4 l14.6,1.6 M702,235.8 l14.6,1.6 M702,239.2 l14.6,1.6" stroke="#111" stroke-width="1.1" fill="none"/>
    <rect x="693.2" y="187.3" width="30.8" height="8.4" fill="url(#hexHead)" stroke="#222" stroke-width="0.7"/>
    <rect x="693.6" y="244.5" width="30.4" height="8" fill="url(#nutRev)" stroke="#222" stroke-width="0.7"/>
    <path d="M701.5,252.5 h14.6 v1.8 q-7.3,2.6 -14.6,0 Z" fill="#3a3a3a"/>
  </g>
  <g>
    <rect x="1015" y="195.7" width="17" height="31" fill="url(#steelHR)"/>
    <rect x="1016.2" y="226" width="14.6" height="18.5" fill="url(#steelDark)"/>
    <path d="M1016.2,229 l14.6,1.6 M1016.2,232.4 l14.6,1.6 M1016.2,235.8 l14.6,1.6 M1016.2,239.2 l14.6,1.6" stroke="#111" stroke-width="1.1" fill="none"/>
    <rect x="1007" y="187.6" width="32" height="8.4" fill="url(#hexHead)" stroke="#222" stroke-width="0.7"/>
    <rect x="1008.5" y="245.5" width="30.5" height="8" fill="url(#nutRev)" stroke="#222" stroke-width="0.7"/>
    <path d="M1016,253.5 h14.6 v1.8 q-7.3,2.6 -14.6,0 Z" fill="#3a3a3a"/>
  </g>

  <!-- upper side plug (left) -->
  <g>
    <rect x="742.2" y="297.6" width="5.2" height="21.9" fill="#fff"/>
    <rect x="715" y="290" width="12.8" height="39" fill="url(#nutBlue)" stroke="#001a55" stroke-width="0.7"/>
    <path d="M713.9,298.5 L714.5,297.0 L715.9,293.8 L717.4,297.0 L718.6,297.0 L720.0,293.8 L721.5,297.0 L722.7,297.0 L724.1,293.8 L725.5,297.0 L726.8,297.0 L728.2,293.8 L729.6,297.0 L730.9,297.0 L732.3,293.8 L733.7,297.0 L734.9,297.0 L736.4,293.8 L737.8,297.0 L739.0,297.0 L740.5,293.8 L741.9,297.0 L742.5,298.0 L742.5,319.2 L740.9,320.2 L739.5,323.4 L738.0,320.2 L736.8,320.2 L735.4,323.4 L733.9,320.2 L732.7,320.2 L731.3,323.4 L729.9,320.2 L728.6,320.2 L727.2,323.4 L725.8,320.2 L724.5,320.2 L723.1,323.4 L721.7,320.2 L720.5,320.2 L719.0,323.4 L717.6,320.2 L716.4,320.2 L714.9,323.4 L713.5,320.2 L713.9,318.7 Z" fill="url(#plugV)" stroke="#0c0c0c" stroke-width="0.5"/>
    <path d="M715.9,295.0 L714.9,322.2 M720.0,295.0 L719.0,322.2 M724.1,295.0 L723.1,322.2 M728.2,295.0 L727.2,322.2 M732.3,295.0 L731.3,322.2 M736.4,295.0 L735.4,322.2 M740.5,295.0 L739.5,322.2" stroke="#b5b5b5" stroke-width="0.9" fill="none" opacity="0.7"/>
    <path d="M713.9,297.5 L712.9,319.7 M718.0,297.5 L717.0,319.7 M722.1,297.5 L721.1,319.7 M726.2,297.5 L725.2,319.7 M730.2,297.5 L729.2,319.7 M734.3,297.5 L733.3,319.7 M738.4,297.5 L737.4,319.7 M742.5,297.5 L741.5,319.7" stroke="#050505" stroke-width="1.1" fill="none" opacity="0.8"/>
    <rect x="705.9" y="298.0" width="8.0" height="22.3" rx="1" fill="url(#plugHeadL)" stroke="#4a4a4a" stroke-width="0.5"/>
    <path d="M705.9,309.1 H711.1" stroke="#222" stroke-width="0.9"/>
  </g>
  <!-- lower side plug (left) -->
  <g>
    <rect x="806" y="735.3" width="4" height="21.1" fill="#fff"/>
    <rect x="779.2" y="727.5" width="12.9" height="38.3" fill="url(#nutBlue)" stroke="#001a55" stroke-width="0.7"/>
    <path d="M778.8,736.1 L779.4,734.6 L780.8,731.4 L782.2,734.6 L783.4,734.6 L784.8,731.4 L786.3,734.6 L787.5,734.6 L788.9,731.4 L790.3,734.6 L791.5,734.6 L792.9,731.4 L794.3,734.6 L795.5,734.6 L796.9,731.4 L798.3,734.6 L799.5,734.6 L801.0,731.4 L802.4,734.6 L803.6,734.6 L805.0,731.4 L806.4,734.6 L807.0,735.6 L807.0,756.2 L805.4,757.2 L804.0,760.4 L802.6,757.2 L801.4,757.2 L800.0,760.4 L798.5,757.2 L797.3,757.2 L795.9,760.4 L794.5,757.2 L793.3,757.2 L791.9,760.4 L790.5,757.2 L789.3,757.2 L787.9,760.4 L786.5,757.2 L785.3,757.2 L783.8,760.4 L782.4,757.2 L781.2,757.2 L779.8,760.4 L778.4,757.2 L778.8,755.7 Z" fill="url(#plugV)" stroke="#0c0c0c" stroke-width="0.5"/>
    <path d="M780.8,732.6 L779.8,759.2 M784.8,732.6 L783.8,759.2 M788.9,732.6 L787.9,759.2 M792.9,732.6 L791.9,759.2 M796.9,732.6 L795.9,759.2 M801.0,732.6 L800.0,759.2 M805.0,732.6 L804.0,759.2" stroke="#b5b5b5" stroke-width="0.9" fill="none" opacity="0.7"/>
    <path d="M778.8,735.1 L777.8,756.7 M782.8,735.1 L781.8,756.7 M786.9,735.1 L785.9,756.7 M790.9,735.1 L789.9,756.7 M794.9,735.1 L793.9,756.7 M798.9,735.1 L797.9,756.7 M803.0,735.1 L802.0,756.7 M807.0,735.1 L806.0,756.7" stroke="#050505" stroke-width="1.1" fill="none" opacity="0.8"/>
    <rect x="770.0" y="735.3" width="8.8" height="21.9" rx="1" fill="url(#plugHeadL)" stroke="#4a4a4a" stroke-width="0.5"/>
    <path d="M770.0,746.2 H775.7" stroke="#222" stroke-width="0.9"/>
  </g>
  <!-- base flange holes -->
  <rect x="736.6" y="785.3" width="12.8" height="23.4" fill="url(#holeG)" stroke="#2a0000" stroke-width="0.5"/>
  <rect x="979.9" y="785.3" width="12.8" height="23.4" fill="url(#holeG)" stroke="#2a0000" stroke-width="0.5"/>
</g>

<!-- LEADER LINES -->
<g class="lead">
  <line x1="401.7" y1="64" x2="254.3" y2="174"/>
  <line x1="673.7" y1="64" x2="823" y2="184"/>
  <line x1="376" y1="297" x2="478" y2="431"/>
  <line x1="689.8" y1="304.2" x2="595" y2="431"/>
  <line x1="330" y1="757.5" x2="467.7" y2="595.8"/>
  <line x1="759" y1="745.7" x2="629" y2="601"/>
  <line x1="331" y1="825" x2="560.8" y2="907"/>
  <polyline points="967,827.7 967,934 842.8,934"/>
</g>

<!-- TEXT -->
<g font-size="17" text-anchor="middle">
  <text class="b" font-size="16.6" x="533.7" y="17.5" textLength="165.4" lengthAdjust="spacingAndGlyphs">Rosca NPT Nominal</text>
  <text x="533.2" y="40.7" textLength="247.7" lengthAdjust="spacingAndGlyphs">bajo la cubierta para conducir</text>
  <text x="533.5" y="63.4" textLength="215" lengthAdjust="spacingAndGlyphs">descarga desmontando la</text>
  <text x="533.5" y="86.6" textLength="153" lengthAdjust="spacingAndGlyphs">cubierta *opcional</text>

  <text class="b" font-size="17.5" x="550.3" y="488" textLength="101.4" lengthAdjust="spacingAndGlyphs">Conexiones</text>
  <text class="b" font-size="17.5" x="550.5" y="511" textLength="153.7" lengthAdjust="spacingAndGlyphs">inferior y superior</text>
  <text class="b" font-size="17.5" x="550.7" y="534" textLength="147.4" lengthAdjust="spacingAndGlyphs">para retro lavado</text>

  <text class="b" font-size="16.6" x="209.4" y="890.7" textLength="182.7" lengthAdjust="spacingAndGlyphs">Válvulas combinadas</text>
  <text class="b" font-size="16.6" x="209.3" y="913.5" textLength="146.6" lengthAdjust="spacingAndGlyphs">o Tri-funcionales</text>
  <text x="209.8" y="936.5" textLength="147.6" lengthAdjust="spacingAndGlyphs">construidas en un</text>
  <text x="209.4" y="959.3" textLength="177.8" lengthAdjust="spacingAndGlyphs">cuerpo de dos piezas</text>

  <text class="b" font-size="16.6" x="704.5" y="922" textLength="175" lengthAdjust="spacingAndGlyphs">CONEXIÓN BRIDADA</text>
  <text x="703.5" y="945" textLength="203.4" lengthAdjust="spacingAndGlyphs">2" a 8" Diámetro Nominal</text>
  <text x="703.7" y="967" textLength="202.6" lengthAdjust="spacingAndGlyphs">para AR-2 a AR-8 y para</text>
  <text x="704.4" y="988.3" textLength="135.2" lengthAdjust="spacingAndGlyphs">AER-2" a AER-8"</text>
</g>
</svg>
</body>
</html>
